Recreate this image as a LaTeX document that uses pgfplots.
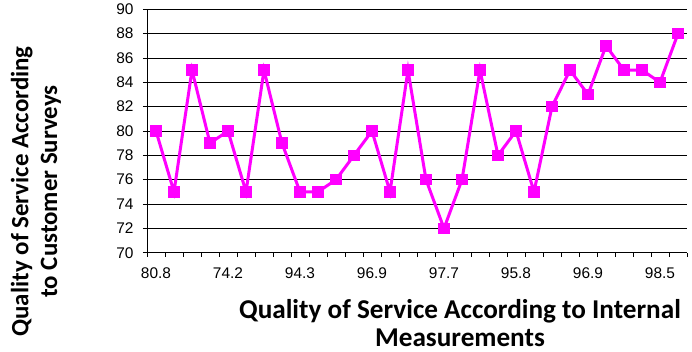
\documentclass[border=0pt]{standalone}
\usepackage{fontspec}
\setmainfont{Liberation Sans}
\newfontfamily\titlefont{Carlito}
\usepackage{pgfplots}
\pgfplotsset{compat=1.18}
\usetikzlibrary{calc}
\definecolor{mag}{HTML}{FF00FF}
\begin{document}
\begin{tikzpicture}
\begin{axis}[
  width=540bp, height=243.4bp, scale only axis,
  xmin=0.5, xmax=30.5, ymin=70, ymax=90,
  ytick={70,72,...,90},
  xtick={0.5,1.5,...,30.5},
  x tick label as interval,
  xticklabels={80.8,{},{},{},74.2,{},{},{},94.3,{},{},{},96.9,{},{},{},97.7,{},{},{},95.8,{},{},{},96.9,{},{},{},98.5,{}},
  axis x line*=bottom, axis y line*=left,
  axis line style={black, line width=0.8bp, -},
  ymajorgrids, grid style={black, line width=0.8bp},
  tick align=outside, major tick length=4bp,
  tick style={black, line width=0.8bp},
  tick label style={font=\fontsize{15.5}{18}\selectfont},
  /pgf/number format/assume math mode=true,
  yticklabel style={xshift=-6bp},
  xticklabel style={yshift=-7bp},
  xlabel={Quality of Service According to Internal\\Measurements},
  ylabel={Quality of Service According\\to Customer Surveys},
  label style={align=center},
  xlabel style={font=\titlefont\bfseries\fontsize{27.3}{27.5}\selectfont, at={(axis description cs:0.5796,-0.289)}, anchor=center, inner sep=1bp},
  ylabel style={font=\titlefont\bfseries\fontsize{25}{29}\selectfont, at={(axis description cs:-0.2056,0.252)}, anchor=center},
]
\addplot[color=mag, line width=3bp, mark=square*, mark size=4.3bp, mark options={solid, fill=mag}] coordinates {
(1,80) (2,75) (3,85) (4,79) (5,80) (6,75) (7,85) (8,79) (9,75) (10,75)
(11,76) (12,78) (13,80) (14,75) (15,85) (16,76) (17,72) (18,76) (19,85) (20,78)
(21,80) (22,75) (23,82) (24,85) (25,83) (26,87) (27,85) (28,85) (29,84) (30,88)
};
\end{axis}
\pgfresetboundingbox
\path ($(current axis.south west)+(-147bp,-99.3bp)$) rectangle ($(current axis.south west)+(545bp,252.7bp)$);
\end{tikzpicture}
\end{document}
